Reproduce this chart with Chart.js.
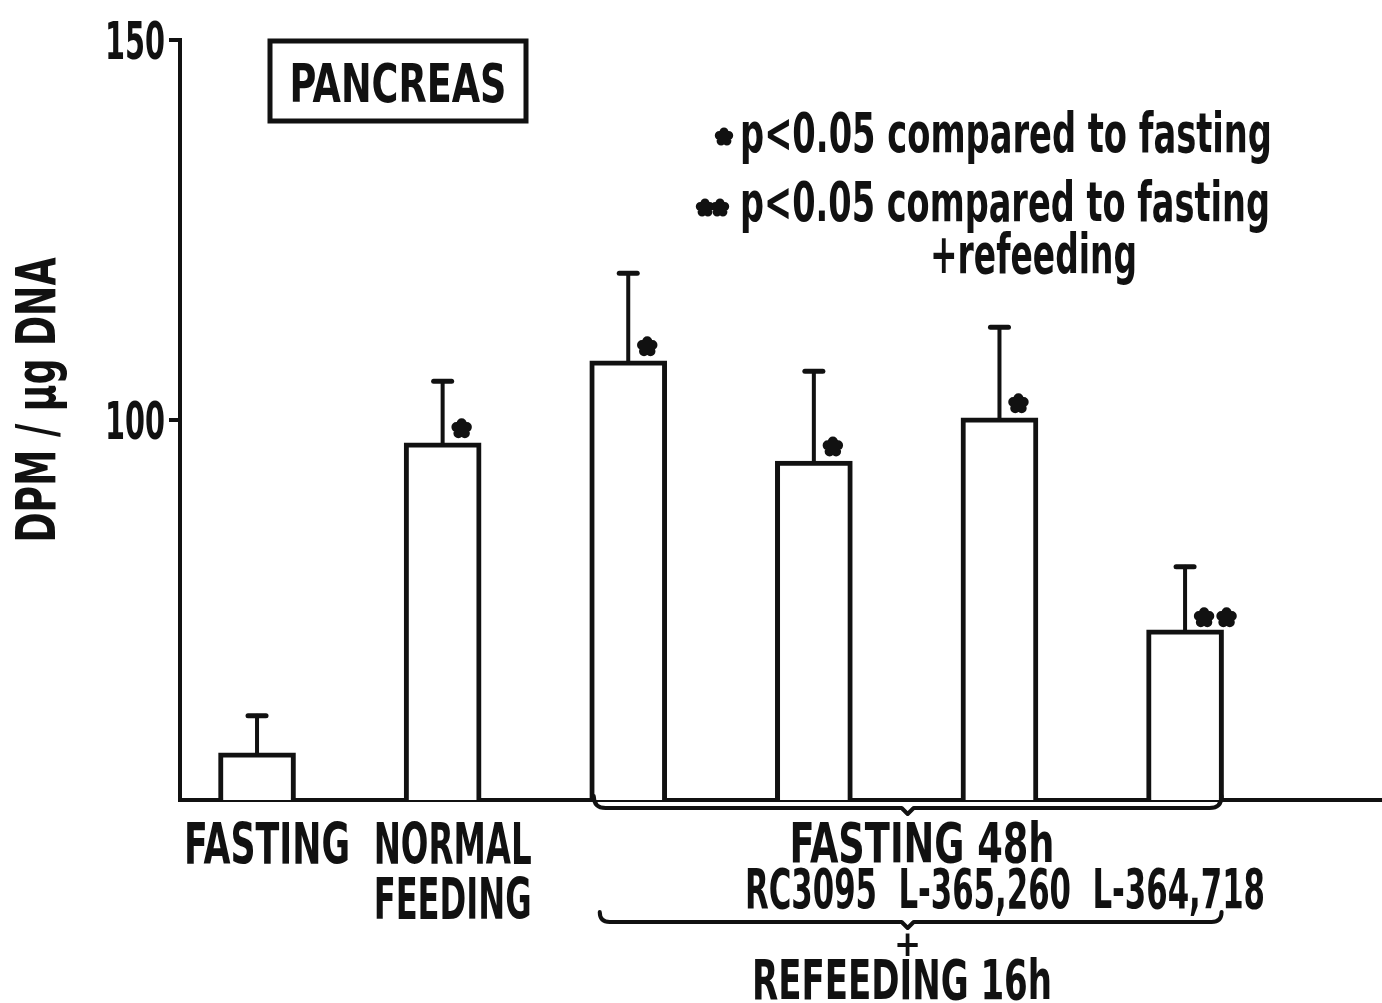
<!DOCTYPE html>
<html>
<head>
<meta charset="utf-8">
<title>Pancreas DPM / µg DNA</title>
<script src="https://cdn.jsdelivr.net/npm/chart.js@4.4.1/dist/chart.umd.min.js"></script>
<style>
  html, body { margin: 0; padding: 0; background: #fff; }
  canvas { display: block; }
</style>
</head>
<body>
<canvas id="chart" width="1382" height="1003"></canvas>
<script>
// Values
const categories = ['FASTING', 'NORMAL FEEDING', 'RC3095', 'L-365,260', 'L-364,718', 'L-364,718 + RC3095'];
const means = [56.2, 97.0, 107.8, 94.6, 100.3, 72.4];
const errorTops = [61.1, 105.1, 119.3, 106.4, 112.2, 80.7];
const marks = ['', '*', '*', '*', '*', '**'];
const yTicks = [100, 150];
const tickLabels = { 0: ['FASTING'], 1: ['NORMAL', 'FEEDING'] };

const FONT = '"DejaVu Sans Condensed", "DejaVu Sans", sans-serif';
const INK = '#111';

(function () {
  const $ = (id) => document.getElementById(id);

  function text(ctx, s, x, y, size, align, maxW) {
    ctx.font = `bold ${size}px ${FONT}`;
    ctx.textAlign = align;
    ctx.textBaseline = 'alphabetic';
    if (maxW) ctx.fillText(s, x, y, maxW);
    else ctx.fillText(s, x, y);
  }

  // little ink blob used for the asterisks
  function blob(ctx, x, y, r) {
    ctx.beginPath();
    for (let k = 0; k < 5; k++) {
      const a = (k / 5) * Math.PI * 2 - Math.PI / 2;
      const px = x + Math.cos(a) * r * 0.55;
      const py = y + Math.sin(a) * r * 0.55;
      ctx.moveTo(px + r * 0.5, py);
      ctx.arc(px, py, r * 0.5, 0, Math.PI * 2);
    }
    ctx.moveTo(x + r * 0.6, y);
    ctx.arc(x, y, r * 0.6, 0, Math.PI * 2);
    ctx.fill();
  }

  function bracket(ctx, x0, x1, y, depth, mid) {
    ctx.beginPath();
    ctx.moveTo(x0, y - depth);
    ctx.quadraticCurveTo(x0, y, x0 + depth, y);
    ctx.lineTo(mid - 6, y);
    ctx.lineTo(mid, y + 6);
    ctx.lineTo(mid + 6, y);
    ctx.lineTo(x1 - depth, y);
    ctx.quadraticCurveTo(x1, y, x1, y - depth);
    ctx.stroke();
  }

  const decor = {
    id: 'decor',
    afterDatasetsDraw(chart) {
      const { ctx, scales: { x, y } } = chart;
      const meta = chart.getDatasetMeta(0);
      ctx.save();
      ctx.strokeStyle = INK;
      ctx.fillStyle = INK;
      ctx.lineCap = 'round';
      means.forEach((m, i) => {
        const cx = x.getPixelForValue(i);
        const yTop = y.getPixelForValue(m);
        const yErr = y.getPixelForValue(errorTops[i]);
        ctx.lineWidth = 4;
        ctx.beginPath();
        ctx.moveTo(cx, yTop);
        ctx.lineTo(cx, yErr);
        ctx.stroke();
        ctx.lineWidth = 5;
        ctx.beginPath();
        ctx.moveTo(cx - 9, yErr);
        ctx.lineTo(cx + 9, yErr);
        ctx.stroke();
        const half = meta.data[i].width / 2;
        if (marks[i] === '*') blob(ctx, cx + 19, yTop - 14, 10);
        if (marks[i] === '**') {
          blob(ctx, cx + 19, yTop - 12, 10);
          blob(ctx, cx + half + 3, yTop - 12, 10);
        }
      });
      ctx.restore();
    },
    afterDraw(chart) {
      const { ctx, scales: { x, y }, chartArea } = chart;
      ctx.save();
      ctx.fillStyle = INK;
      ctx.strokeStyle = INK;

      // y tick labels
      yTicks.forEach((v) => {
        const py = y.getPixelForValue(v);
        text(ctx, String(v), chartArea.left - 15, py + 19, 52, 'right', 60);
      });

      // y title
      ctx.save();
      ctx.translate(55, 400);
      ctx.rotate(-Math.PI / 2);
      text(ctx, 'DPM / µg DNA', 0, 0, 55, 'center', 285);
      ctx.restore();

      // category labels
      Object.keys(tickLabels).forEach((k) => {
        const cx = x.getPixelForValue(Number(k)) + 10;
        tickLabels[k].forEach((line, j) => {
          text(ctx, line, cx, 864 + j * 55, 57, 'center', j === 0 && k === '0' ? 166 : 158);
        });
      });

      // brackets under the treated groups
      const meta = chart.getDatasetMeta(0);
      const bx0 = meta.data[2].x - meta.data[2].width / 2 + 4;
      const bx1 = meta.data[5].x + meta.data[5].width / 2 - 2;
      const mid = (bx0 + bx1) / 2;
      ctx.lineWidth = 4;
      ctx.lineCap = 'round';
      ctx.lineJoin = 'round';
      bracket(ctx, bx0, bx1, 808, 12, mid);
      bracket(ctx, bx0 + 6, bx1, 922, 10, mid);

      text(ctx, 'FASTING 48h', 922, 862, 56, 'center', 265);
      text(ctx, 'RC3095  L-365,260  L-364,718', 1005, 908, 56, 'center', 520);
      text(ctx, '+', mid, 956, 36, 'center');
      text(ctx, 'REFEEDING 16h', 902, 999, 56, 'center', 300);

      // title box
      ctx.lineWidth = 5;
      ctx.lineJoin = 'miter';
      ctx.strokeRect(270, 41, 256, 80);
      text(ctx, 'PANCREAS', 398, 102, 54, 'center', 217);

      // significance legend
      blob(ctx, 724, 137, 9);
      text(ctx, 'p<0.05 compared to fasting', 740, 152, 55, 'left', 532);
      blob(ctx, 705, 208, 9);
      blob(ctx, 720, 208, 9);
      text(ctx, 'p<0.05 compared to fasting', 740, 221, 55, 'left', 530);
      text(ctx, '+refeeding', 930, 273, 55, 'left', 207);

      ctx.restore();
    },
  };

  new Chart($('chart'), {
    type: 'bar',
    data: {
      datasets: [{
        label: 'DPM / µg DNA',
        data: means.map((v, i) => ({ x: i, y: v })),
        backgroundColor: '#fff',
        borderColor: INK,
        borderWidth: 5,
        borderSkipped: 'bottom',
        barThickness: 77,
      }],
    },
    options: {
      responsive: false,
      animation: false,
      layout: { padding: { top: 40, left: 0, right: 0, bottom: 0 } },
      plugins: { legend: { display: false }, tooltip: { enabled: false } },
      scales: {
        x: {
          type: 'linear',
          offset: false,
          min: -0.415,
          max: 6.061,
          ticks: { display: false },
          grid: { display: false, offset: false },
          border: { display: true, color: INK, width: 4 },
          afterFit: (s) => { s.height = 203; },
        },
        y: {
          min: 50,
          max: 150,
          ticks: { display: false, stepSize: 50 },
          grid: {
            drawOnChartArea: false,
            drawTicks: true,
            tickLength: 11,
            lineWidth: 4,
            color: (c) => (c.tick && c.tick.value === 50 ? 'rgba(0,0,0,0)' : INK),
          },
          border: { display: true, color: INK, width: 4 },
          afterFit: (s) => { s.width = 180; },
        },
      },
    },
    plugins: [decor],
  });
})();
</script>
</body>
</html>
